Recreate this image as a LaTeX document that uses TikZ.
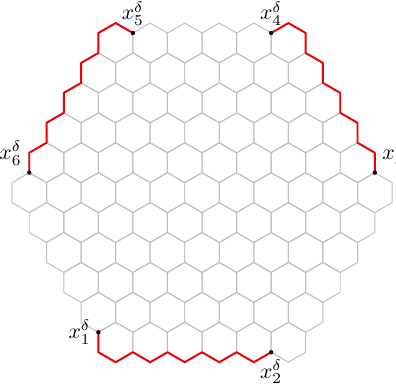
\documentclass[tikz,border=0pt]{standalone}
\usepackage{tikz}
\usepackage{xcolor}
\definecolor{latticegray}{RGB}{190,190,190}
\definecolor{boundaryred}{RGB}{235,0,0}

\begin{document}
\begin{tikzpicture}[x=0.323cm, y=0.323cm,
  hexline/.style={draw=latticegray, line width=0.45pt, line join=round},
  boundary/.style={draw=boundaryred, line width=0.9pt, line join=round},
  corner/.style={fill=black}
]
\useasboundingbox (-0.6,-17.49) rectangle (19.25,2.155);

\foreach \r in {0,...,10}{
  \pgfmathtruncatemacro{\n}{6+min(\r,10-\r)}
  \pgfmathsetmacro{\xs}{sqrt(3)/2*(1+abs(\r-5))}
  \foreach \k in {1,...,\n}{
    \draw[hexline] ({\xs+(\k-1)*sqrt(3)},{-1.5*\r}) +(30:1) -- +(90:1) -- +(150:1) -- +(210:1) -- +(270:1) -- +(330:1) -- cycle;
  }
}

\coordinate (x1) at ({2.5*sqrt(3)},-14.5);
\coordinate (x2) at ({7.5*sqrt(3)},-15.5);
\coordinate (x3) at ({10.5*sqrt(3)},-6.5);
\coordinate (x4) at ({7.5*sqrt(3)},0.5);
\coordinate (x5) at ({3.5*sqrt(3)},0.5);
\coordinate (x6) at ({sqrt(3)/2},-6.5);

\draw[boundary] (x6) \foreach \i in {1,...,5}{ -- ++(90:1) -- ++(30:1) } -- (x5);
\draw[boundary] (x4) -- ++(30:1) -- ++(-30:1) \foreach \i in {1,...,4}{ -- ++(-90:1) -- ++(-30:1) } -- (x3);
\draw[boundary] (x1) -- ++(-90:1) \foreach \i in {1,...,4}{ -- ++(-30:1) -- ++(30:1) } -- ++(-30:1) -- (x2);

\foreach \p in {x1,x2,x3,x4,x5,x6}
  \fill[corner] (\p) circle (1pt);

\node[left] (l1) at (x1) {$x^{\delta}_{1}$};
\node[below] (l2) at (x2) {$x^{\delta}_{2}$};
\node[above right] (l3) at (x3) {$x^{\delta}_{3}$};
\node[above] (l4) at (x4) {$x^{\delta}_{4}$};
\node[above] (l5) at (x5) {$x^{\delta}_{5}$};
\node[above left] (l6) at (x6) {$x^{\delta}_{6}$};
\end{tikzpicture}
\end{document}
